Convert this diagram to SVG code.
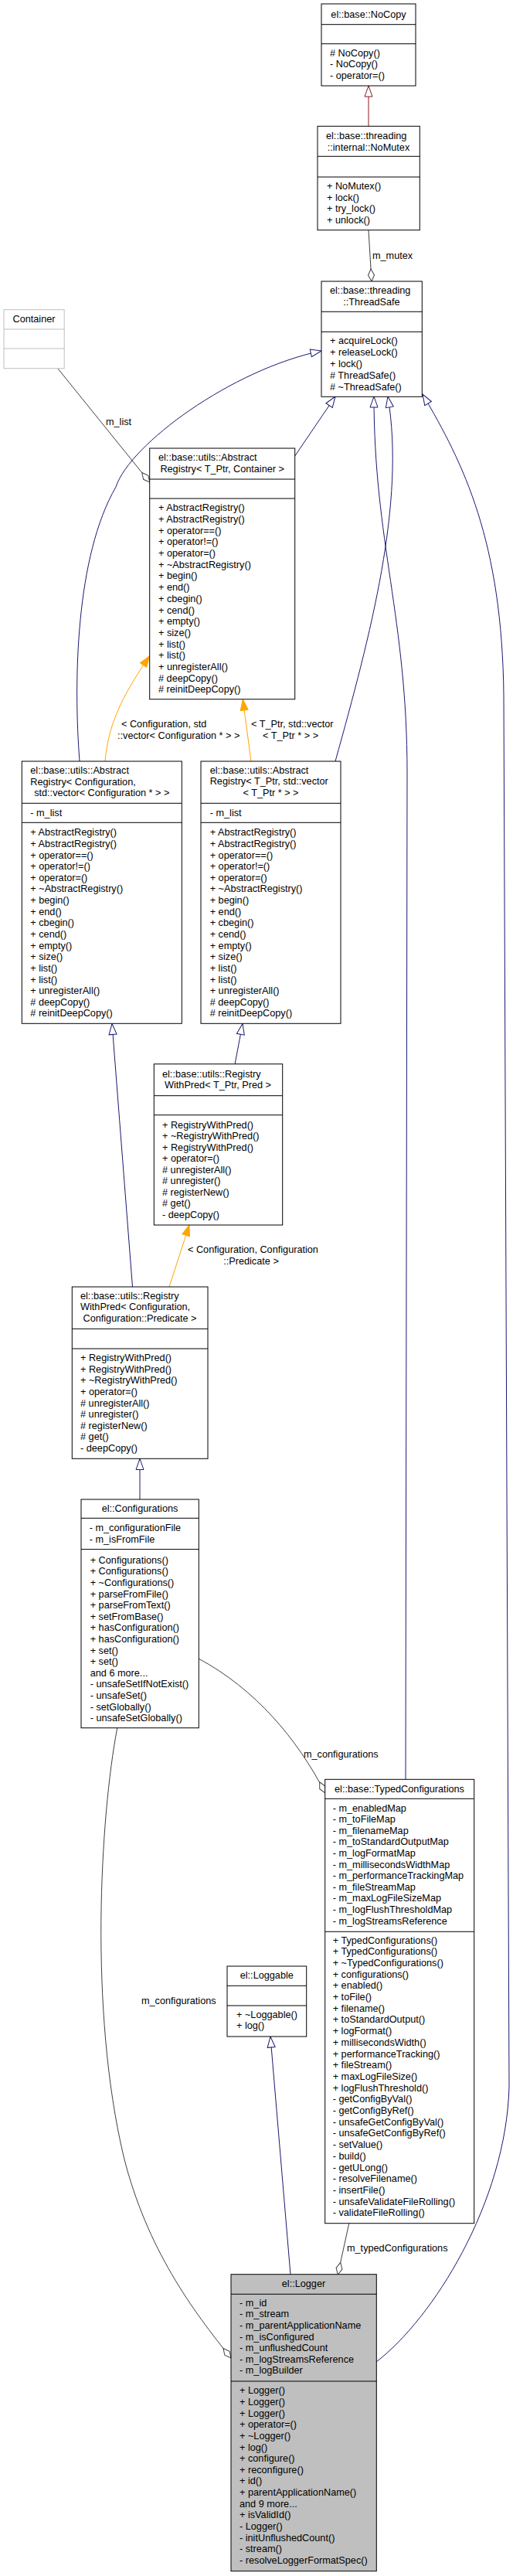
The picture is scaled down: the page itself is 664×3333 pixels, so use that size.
<svg xmlns="http://www.w3.org/2000/svg" width="664" height="3333" viewBox="0 0 664 3333">
<style>
.b{fill:#fff;stroke:#000;stroke-width:1}
.g{fill:#bfbfbf;stroke:#000;stroke-width:1}
.s{stroke:#000;stroke-width:1}
text{font-family:"Liberation Sans",Arial,sans-serif;font-size:12.7px;fill:#000}
.c{text-anchor:middle}
.inh{fill:none;stroke:#191970;stroke-width:1;marker-end:url(#tri)}
.red{fill:none;stroke:#8b1a1a;stroke-width:1;marker-end:url(#trir)}
.tpl{fill:none;stroke:#ffa500;stroke-width:1;marker-end:url(#trio)}
.use{fill:none;stroke:#404040;stroke-width:1;marker-end:url(#dia)}
</style>
<defs>
<marker id="tri" markerUnits="userSpaceOnUse" markerWidth="16" markerHeight="12" viewBox="-1 -1 16 12" refX="14" refY="5" orient="auto"><path d="M0,0 L14,5 L0,10 Z" fill="#fff" stroke="#191970"/></marker>
<marker id="trir" markerUnits="userSpaceOnUse" markerWidth="16" markerHeight="12" viewBox="-1 -1 16 12" refX="14" refY="5" orient="auto"><path d="M0,0 L14,5 L0,10 Z" fill="#fff" stroke="#8b1a1a"/></marker>
<marker id="trio" markerUnits="userSpaceOnUse" markerWidth="16" markerHeight="12" viewBox="-1 -1 16 12" refX="14" refY="5" orient="auto"><path d="M0,0 L14,5 L0,10 Z" fill="#ffa500" stroke="#ffa500"/></marker>
<marker id="dia" markerUnits="userSpaceOnUse" markerWidth="18" markerHeight="10" viewBox="-1 -1 18 10" refX="16" refY="4" orient="auto"><path d="M0,4 L8,0 L16,4 L8,8 Z" fill="#fff" stroke="#404040"/></marker>
</defs>

<g id="edges">
<path class="red" d="M477,163 L477,111"/>
<path class="use" d="M477,298 L481,364"/>
<text x="482" y="334.5">m_mutex</text>
<path class="use" d="M75,477 L193.8,624"/>
<text x="137" y="550">m_list</text>
<path class="inh" d="M103,985 C95,880 98,720 150,630 C168,575 300,478 416,454"/>
<path class="inh" d="M381,591 L434,513"/>
<path class="inh" d="M434,985 C480,820 525,650 502,513"/>
<path class="inh" d="M525,2302 L527,1000 C527,800 484,700 484,513"/>
<path class="inh" d="M487,3056 C560,3000 655,2850 659,2700 L652,900 C650,700 600,600 547,510"/>
<path class="tpl" d="M136,985 C140,940 155,905 193.5,849"/>
<text x="157" y="941">&lt; Configuration, std</text>
<text x="152" y="956">::vector&lt; Configuration * &gt; &gt;</text>
<path class="tpl" d="M325,985 L314.3,905"/>
<text x="325" y="941">&lt; T_Ptr, std::vector</text>
<text x="340" y="956">&lt; T_Ptr * &gt; &gt;</text>
<path class="inh" d="M171.5,1665 L145,1324.5"/>
<path class="inh" d="M304,1377 L314,1324.5"/>
<path class="tpl" d="M219,1665 L245,1585"/>
<text x="243" y="1621">&lt; Configuration, Configuration</text>
<text x="325" y="1636" class="c">::Predicate &gt;</text>
<path class="inh" d="M181,1940 L181,1887.5"/>
<path class="use" d="M257,2146 C330,2185 385,2250 421,2320"/>
<text x="393" y="2273.5">m_configurations</text>
<path class="use" d="M151.7,2236 C130,2350 115,2600 160,2790 C190,2910 250,2990 299,3051"/>
<text x="183" y="2593">m_configurations</text>
<path class="inh" d="M376,2943 L350,2635"/>
<path class="use" d="M451.7,2877 L437.3,2943"/>
<text x="449" y="2913">m_typedConfigurations</text>
</g>

<g id="NoCopy">
<rect class="b" x="416" y="5" width="122" height="106"/>
<path class="s" d="M416,31.7H538M416,56.7H538"/>
<text x="477" y="23" class="c">el::base::NoCopy</text>
<text x="427" y="72.5"># NoCopy()</text>
<text x="427" y="87">- NoCopy()</text>
<text x="427" y="102">- operator=()</text>
</g>

<g id="NoMutex">
<rect class="b" x="411" y="163.3" width="132.3" height="134.4"/>
<path class="s" d="M411,202.3H543.3M411,229H543.3"/>
<text x="422" y="179.5">el::base::threading</text>
<text x="477" y="194.5" class="c">::internal::NoMutex</text>
<text x="423" y="244.5">+ NoMutex()</text>
<text x="423" y="259.5">+ lock()</text>
<text x="423" y="274">+ try_lock()</text>
<text x="423" y="289">+ unlock()</text>
</g>

<g id="ThreadSafe">
<rect class="b" x="416" y="364" width="130.3" height="149.3"/>
<path class="s" d="M416,403.3H546.3M416,429.3H546.3"/>
<text x="427" y="380.2">el::base::threading</text>
<text x="481" y="395.2" class="c">::ThreadSafe</text>
<text x="427" y="444.5">+ acquireLock()</text>
<text x="427" y="459.8">+ releaseLock()</text>
<text x="427" y="474.5">+ lock()</text>
<text x="427" y="489.5"># ThreadSafe()</text>
<text x="427" y="504.5"># ~ThreadSafe()</text>
</g>

<g id="Container">
<rect x="5" y="400.7" width="78.2" height="76" fill="#fff" stroke="#bfbfbf"/>
<path d="M5,426H83.2M5,451H83.2" stroke="#bfbfbf"/>
<text x="44" y="417" class="c">Container</text>
</g>

<g id="AbstractRegistryTPtrContainer">
<rect class="b" x="193.7" y="580" width="188" height="324.7"/>
<path class="s" d="M193.7,620H381.7M193.7,645H381.7"/>
<text x="205" y="596.2">el::base::utils::Abstract</text>
<text x="287.7" y="610.5" class="c">Registry&lt; T_Ptr, Container &gt;</text>
<text x="205" y="661.2">+ AbstractRegistry()</text>
<text x="205" y="675.9">+ AbstractRegistry()</text>
<text x="205" y="690.6">+ operator==()</text>
<text x="205" y="705.3">+ operator!=()</text>
<text x="205" y="720">+ operator=()</text>
<text x="205" y="734.7">+ ~AbstractRegistry()</text>
<text x="205" y="749.4">+ begin()</text>
<text x="205" y="764.1">+ end()</text>
<text x="205" y="778.8">+ cbegin()</text>
<text x="205" y="793.5">+ cend()</text>
<text x="205" y="808.2">+ empty()</text>
<text x="205" y="822.9">+ size()</text>
<text x="205" y="837.6">+ list()</text>
<text x="205" y="852.3">+ list()</text>
<text x="205" y="867">+ unregisterAll()</text>
<text x="205" y="881.7"># deepCopy()</text>
<text x="205" y="896.4"># reinitDeepCopy()</text>
</g>

<g id="AbstractRegistryConfiguration">
<rect class="b" x="28.3" y="985" width="207" height="339.3"/>
<path class="s" d="M28.3,1039.3H235.3M28.3,1064.3H235.3"/>
<text x="39.3" y="1001.2">el::base::utils::Abstract</text>
<text x="39.3" y="1015.5">Registry&lt; Configuration,</text>
<text x="131.8" y="1029.8" class="c">std::vector&lt; Configuration * &gt; &gt;</text>
<text x="39.3" y="1055.5">- m_list</text>
<text x="39.3" y="1081.2">+ AbstractRegistry()</text>
<text x="39.3" y="1095.8">+ AbstractRegistry()</text>
<text x="39.3" y="1110.5">+ operator==()</text>
<text x="39.3" y="1125.1">+ operator!=()</text>
<text x="39.3" y="1139.8">+ operator=()</text>
<text x="39.3" y="1154.4">+ ~AbstractRegistry()</text>
<text x="39.3" y="1169">+ begin()</text>
<text x="39.3" y="1183.7">+ end()</text>
<text x="39.3" y="1198.3">+ cbegin()</text>
<text x="39.3" y="1213">+ cend()</text>
<text x="39.3" y="1227.6">+ empty()</text>
<text x="39.3" y="1242.2">+ size()</text>
<text x="39.3" y="1256.9">+ list()</text>
<text x="39.3" y="1271.5">+ list()</text>
<text x="39.3" y="1286.2">+ unregisterAll()</text>
<text x="39.3" y="1300.8"># deepCopy()</text>
<text x="39.3" y="1315.4"># reinitDeepCopy()</text>
</g>

<g id="AbstractRegistryTPtrVector">
<rect class="b" x="260" y="985" width="181" height="339.3"/>
<path class="s" d="M260,1039.3H441M260,1064.3H441"/>
<text x="271.7" y="1001.2">el::base::utils::Abstract</text>
<text x="271.7" y="1014.8">Registry&lt; T_Ptr, std::vector</text>
<text x="350.5" y="1029.8" class="c">&lt; T_Ptr * &gt; &gt;</text>
<text x="271.7" y="1055.5">- m_list</text>
<text x="271.7" y="1081.2">+ AbstractRegistry()</text>
<text x="271.7" y="1095.8">+ AbstractRegistry()</text>
<text x="271.7" y="1110.5">+ operator==()</text>
<text x="271.7" y="1125.1">+ operator!=()</text>
<text x="271.7" y="1139.8">+ operator=()</text>
<text x="271.7" y="1154.4">+ ~AbstractRegistry()</text>
<text x="271.7" y="1169">+ begin()</text>
<text x="271.7" y="1183.7">+ end()</text>
<text x="271.7" y="1198.3">+ cbegin()</text>
<text x="271.7" y="1213">+ cend()</text>
<text x="271.7" y="1227.6">+ empty()</text>
<text x="271.7" y="1242.2">+ size()</text>
<text x="271.7" y="1256.9">+ list()</text>
<text x="271.7" y="1271.5">+ list()</text>
<text x="271.7" y="1286.2">+ unregisterAll()</text>
<text x="271.7" y="1300.8"># deepCopy()</text>
<text x="271.7" y="1315.4"># reinitDeepCopy()</text>
</g>

<g id="RegistryWithPredTPtr">
<rect class="b" x="199.3" y="1376.7" width="166.4" height="208.3"/>
<path class="s" d="M199.3,1417.7H365.7M199.3,1442.7H365.7"/>
<text x="210" y="1393.5">el::base::utils::Registry</text>
<text x="282" y="1407.8" class="c">WithPred&lt; T_Ptr, Pred &gt;</text>
<text x="210" y="1459.5">+ RegistryWithPred()</text>
<text x="210" y="1474">+ ~RegistryWithPred()</text>
<text x="210" y="1488.5">+ RegistryWithPred()</text>
<text x="210" y="1503">+ operator=()</text>
<text x="210" y="1517.5"># unregisterAll()</text>
<text x="210" y="1532"># unregister()</text>
<text x="210" y="1546.5"># registerNew()</text>
<text x="210" y="1561"># get()</text>
<text x="210" y="1575.5">- deepCopy()</text>
</g>

<g id="RegistryWithPredConfiguration">
<rect class="b" x="93.3" y="1665" width="175.7" height="222.3"/>
<path class="s" d="M93.3,1719.3H269M93.3,1745H269"/>
<text x="104" y="1681.2">el::base::utils::Registry</text>
<text x="104" y="1695.2">WithPred&lt; Configuration,</text>
<text x="181" y="1709.5" class="c">Configuration::Predicate &gt;</text>
<text x="104" y="1761.2">+ RegistryWithPred()</text>
<text x="104" y="1775.8">+ RegistryWithPred()</text>
<text x="104" y="1790.4">+ ~RegistryWithPred()</text>
<text x="104" y="1805">+ operator=()</text>
<text x="104" y="1819.6"># unregisterAll()</text>
<text x="104" y="1834.2"># unregister()</text>
<text x="104" y="1848.8"># registerNew()</text>
<text x="104" y="1863.4"># get()</text>
<text x="104" y="1878">- deepCopy()</text>
</g>

<g id="Configurations">
<rect class="b" x="105" y="1940" width="152.3" height="295.7"/>
<path class="s" d="M105,1964.3H257.3M105,2004.6H257.3"/>
<text x="181" y="1956.2" class="c">el::Configurations</text>
<text x="115.7" y="1981.2">- m_configurationFile</text>
<text x="115.7" y="1996.2">- m_isFromFile</text>
<text x="116.7" y="2022.8">+ Configurations()</text>
<text x="116.7" y="2037.4">+ Configurations()</text>
<text x="116.7" y="2052">+ ~Configurations()</text>
<text x="116.7" y="2066.6">+ parseFromFile()</text>
<text x="116.7" y="2081.2">+ parseFromText()</text>
<text x="116.7" y="2095.8">+ setFromBase()</text>
<text x="116.7" y="2110.4">+ hasConfiguration()</text>
<text x="116.7" y="2125">+ hasConfiguration()</text>
<text x="116.7" y="2139.6">+ set()</text>
<text x="116.7" y="2154.2">+ set()</text>
<text x="116.7" y="2168.8">and 6 more...</text>
<text x="116.7" y="2183.4">- unsafeSetIfNotExist()</text>
<text x="116.7" y="2198">- unsafeSet()</text>
<text x="116.7" y="2212.6">- setGlobally()</text>
<text x="116.7" y="2227.2">- unsafeSetGlobally()</text>
</g>

<g id="TypedConfigurations">
<rect class="b" x="420.7" y="2302.3" width="193" height="574.4"/>
<path class="s" d="M420.7,2327.3H613.7M420.7,2499.3H613.7"/>
<text x="517" y="2318.5" class="c">el::base::TypedConfigurations</text>
<text x="430.7" y="2343.5">- m_enabledMap</text>
<text x="430.7" y="2358.1">- m_toFileMap</text>
<text x="430.7" y="2372.7">- m_filenameMap</text>
<text x="430.7" y="2387.3">- m_toStandardOutputMap</text>
<text x="430.7" y="2401.9">- m_logFormatMap</text>
<text x="430.7" y="2416.5">- m_millisecondsWidthMap</text>
<text x="430.7" y="2431.1">- m_performanceTrackingMap</text>
<text x="430.7" y="2445.7">- m_fileStreamMap</text>
<text x="430.7" y="2460.3">- m_maxLogFileSizeMap</text>
<text x="430.7" y="2474.9">- m_logFlushThresholdMap</text>
<text x="430.7" y="2489.5">- m_logStreamsReference</text>
<text x="430.7" y="2514.5">+ TypedConfigurations()</text>
<text x="430.7" y="2529.2">+ TypedConfigurations()</text>
<text x="430.7" y="2543.9">+ ~TypedConfigurations()</text>
<text x="430.7" y="2558.6">+ configurations()</text>
<text x="430.7" y="2573.3">+ enabled()</text>
<text x="430.7" y="2588">+ toFile()</text>
<text x="430.7" y="2602.7">+ filename()</text>
<text x="430.7" y="2617.4">+ toStandardOutput()</text>
<text x="430.7" y="2632.1">+ logFormat()</text>
<text x="430.7" y="2646.8">+ millisecondsWidth()</text>
<text x="430.7" y="2661.5">+ performanceTracking()</text>
<text x="430.7" y="2676.2">+ fileStream()</text>
<text x="430.7" y="2690.9">+ maxLogFileSize()</text>
<text x="430.7" y="2705.6">+ logFlushThreshold()</text>
<text x="430.7" y="2720.3">- getConfigByVal()</text>
<text x="430.7" y="2735">- getConfigByRef()</text>
<text x="430.7" y="2749.7">- unsafeGetConfigByVal()</text>
<text x="430.7" y="2764.4">- unsafeGetConfigByRef()</text>
<text x="430.7" y="2779.1">- setValue()</text>
<text x="430.7" y="2793.8">- build()</text>
<text x="430.7" y="2808.5">- getULong()</text>
<text x="430.7" y="2823.2">- resolveFilename()</text>
<text x="430.7" y="2837.9">- insertFile()</text>
<text x="430.7" y="2852.6">- unsafeValidateFileRolling()</text>
<text x="430.7" y="2867.3">- validateFileRolling()</text>
</g>

<g id="Loggable">
<rect class="b" x="294" y="2544" width="102.7" height="91"/>
<path class="s" d="M294,2569.3H396.7M294,2595H396.7"/>
<text x="345.3" y="2559.5" class="c">el::Loggable</text>
<text x="306" y="2611.2">+ ~Loggable()</text>
<text x="306" y="2625.2">+ log()</text>
</g>

<g id="Logger">
<rect class="g" x="299" y="2942.7" width="188.3" height="384"/>
<path class="s" d="M299,2968.3H487.3M299,3081H487.3"/>
<text x="393" y="2958.8" class="c">el::Logger</text>
<text x="310" y="2983.8">- m_id</text>
<text x="310" y="2998.4">- m_stream</text>
<text x="310" y="3013">- m_parentApplicationName</text>
<text x="310" y="3027.6">- m_isConfigured</text>
<text x="310" y="3042.2">- m_unflushedCount</text>
<text x="310" y="3056.8">- m_logStreamsReference</text>
<text x="310" y="3071.4">- m_logBuilder</text>
<text x="310" y="3097.2">+ Logger()</text>
<text x="310" y="3111.9">+ Logger()</text>
<text x="310" y="3126.5">+ Logger()</text>
<text x="310" y="3141.2">+ operator=()</text>
<text x="310" y="3155.8">+ ~Logger()</text>
<text x="310" y="3170.5">+ log()</text>
<text x="310" y="3185.1">+ configure()</text>
<text x="310" y="3199.8">+ reconfigure()</text>
<text x="310" y="3214.4">+ id()</text>
<text x="310" y="3229.1">+ parentApplicationName()</text>
<text x="310" y="3243.7">and 9 more...</text>
<text x="310" y="3258.4">+ isValidId()</text>
<text x="310" y="3273">- Logger()</text>
<text x="310" y="3287.7">- initUnflushedCount()</text>
<text x="310" y="3302.3">- stream()</text>
<text x="310" y="3317">- resolveLoggerFormatSpec()</text>
</g>
</svg>
